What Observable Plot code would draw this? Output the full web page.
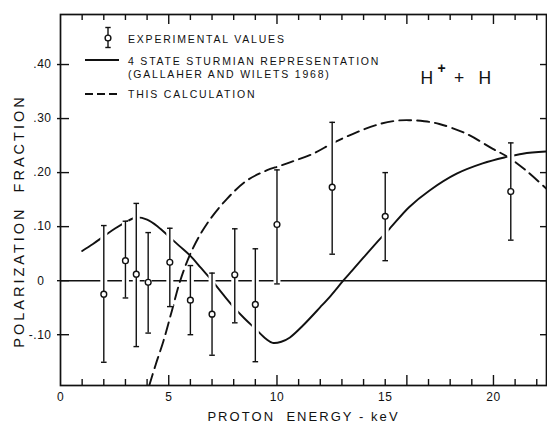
<!DOCTYPE html>
<html><head><meta charset="utf-8">
<script src="https://cdn.jsdelivr.net/npm/d3@7"></script>
<script src="https://cdn.jsdelivr.net/npm/@observablehq/plot@0.6"></script>
<style>
body{margin:0;background:#fff;}
#chart{position:relative;width:547px;height:423px;}
</style></head><body><div id="chart"></div>
<script>
// Experimental values (keV, polarization fraction, error bar limits)
const expEnergy = [2.0, 3.0, 3.5, 4.05, 5.05, 6.0, 7.0, 8.05, 9.0, 10.0, 12.55, 15.0, 20.8];
const expValue  = [-0.025, 0.037, 0.012, -0.003, 0.034, -0.036, -0.062, 0.011, -0.044, 0.104, 0.173, 0.119, 0.165];
const expHigh   = [0.102, 0.110, 0.143, 0.089, 0.097, 0.028, 0.014, 0.096, 0.059, 0.205, 0.293, 0.200, 0.255];
const expLow    = [-0.151, -0.032, -0.122, -0.097, -0.048, -0.100, -0.138, -0.078, -0.150, -0.006, 0.049, 0.037, 0.075];

// 4 state Sturmian representation (Gallaher and Wilets 1968)
const sturmEnergy = [1.0, 1.5, 2.0, 2.5, 3.0, 3.5, 4.0, 4.5, 5.0, 5.5, 6.0, 6.5, 7.0, 7.5, 8.0, 8.5, 9.0, 9.5, 9.8, 10.2, 10.6, 11.2, 12.0, 12.5, 13.06, 13.5, 14.0, 14.75, 15.2, 16.1, 17.05, 18.3, 19.5, 20.5, 21.35, 22.45];
const sturmValue  = [0.055, 0.068, 0.082, 0.096, 0.108, 0.117, 0.113, 0.100, 0.082, 0.064, 0.046, 0.023, 0.000, -0.025, -0.049, -0.070, -0.089, -0.108, -0.115, -0.113, -0.105, -0.083, -0.049, -0.027, 0.000, 0.020, 0.043, 0.077, 0.096, 0.136, 0.167, 0.198, 0.217, 0.228, 0.235, 0.239];

// This calculation
const calcEnergy = [4.1, 4.4, 4.76, 5.15, 5.53, 6.07, 6.76, 7.68, 8.6, 9.52, 10.1, 10.6, 11.67, 12.6, 13.7, 14.75, 15.5, 16.1, 16.8, 17.5, 18.74, 19.97, 20.7, 21.5, 22.45];
const calcValue  = [-0.194, -0.155, -0.111, -0.055, 0.000, 0.056, 0.105, 0.151, 0.185, 0.204, 0.212, 0.219, 0.235, 0.255, 0.275, 0.290, 0.296, 0.297, 0.295, 0.290, 0.272, 0.244, 0.228, 0.204, 0.170];

// Axis ticks
const xLabelTicks = [0, 5, 10, 15, 20];
const xMinorTicks = [1, 2, 3, 4, 6, 7, 8, 9, 11, 12, 13, 14, 15, 17, 18, 19, 21, 22];
const xMajorTicks = [5, 10, 16, 20];
const yTicks = [-0.1, 0, 0.1, 0.2, 0.3, 0.4];

// Text
const xTitle = "PROTON  ENERGY - keV";
const yTitle = "POLARIZATION  FRACTION";
const legendLabels = ["EXPERIMENTAL VALUES", "4 STATE STURMIAN REPRESENTATION", "(GALLAHER AND WILETS 1968)", "THIS CALCULATION"];

const expData = expEnergy.map((e, i) => ({e, v: expValue[i], hi: expHigh[i], lo: expLow[i]}));
const sturmData = sturmEnergy.map((e, i) => ({e, v: sturmValue[i]}));
const calcData = calcEnergy.map((e, i) => ({e, v: calcValue[i]}));

const W = 547, H = 423, mL = 60, mR = 1, mT = 14, mB = 38;
const iW = W - mL - mR, iH = H - mT - mB;
const font = "'Liberation Sans', Arial, sans-serif";
const yFmt = d => d === 0 ? "0\u2007" : (d < 0 ? "-" : "") + d3.format(".2f")(Math.abs(d)).replace(/^0/, "");
const capSymbol = {draw(ctx, size) { const r = Math.sqrt(size / Math.PI); ctx.moveTo(-r, 0); ctx.lineTo(r, 0); }};
const ink = "#111";

const plot = Plot.plot({
  width: W, height: H, marginLeft: mL, marginRight: mR, marginTop: mT, marginBottom: mB,
  x: {domain: [0, 22.45]},
  y: {domain: [-0.194, 0.4926]},
  style: {fontFamily: font, fontSize: "12px", color: ink, background: "#fff"},
  marks: [
    Plot.ruleY([0], {stroke: ink, strokeWidth: 1.5}),
    Plot.line(sturmData, {x: "e", y: "v", curve: "catmull-rom", stroke: ink, strokeWidth: 1.9, clip: true}),
    Plot.line(calcData, {x: "e", y: "v", curve: "catmull-rom", stroke: ink, strokeWidth: 1.9, strokeDasharray: "12,6", clip: true}),
    Plot.ruleX(expData, {x: "e", y1: "lo", y2: "hi", stroke: "#fff", strokeWidth: 7}),
    Plot.ruleX(expData, {x: "e", y1: "lo", y2: "hi", stroke: ink, strokeWidth: 1.4}),
    Plot.dot(expData, {x: "e", y: "hi", symbol: capSymbol, r: 2.8, stroke: ink, strokeWidth: 1.4}),
    Plot.dot(expData, {x: "e", y: "lo", symbol: capSymbol, r: 2.8, stroke: ink, strokeWidth: 1.4}),
    Plot.dot(expData, {x: "e", y: "v", r: 2.9, fill: "#fff", stroke: ink, strokeWidth: 1.4}),
    // ticks (inward)
    Plot.gridX(xMinorTicks, {stroke: ink, strokeOpacity: 1, strokeWidth: 1.4, insetTop: iH - 6}),
    Plot.gridX(xMajorTicks, {stroke: ink, strokeOpacity: 1, strokeWidth: 1.4, insetTop: iH - 10}),
    Plot.gridX(xMinorTicks, {stroke: ink, strokeOpacity: 1, strokeWidth: 1.4, insetBottom: iH - 6}),
    Plot.gridX(xMajorTicks, {stroke: ink, strokeOpacity: 1, strokeWidth: 1.4, insetBottom: iH - 10}),
    Plot.gridY(yTicks, {stroke: ink, strokeOpacity: 1, strokeWidth: 1.4, insetRight: iW - 9, insetLeft: -3}),
    Plot.gridY(yTicks, {stroke: ink, strokeOpacity: 1, strokeWidth: 1.4, insetLeft: iW - 6}),
    Plot.frame({stroke: ink, strokeWidth: 1.7}),
    Plot.axisX({ticks: xLabelTicks, tickSize: 0, tickPadding: 7, label: null, fontSize: 12}),
    Plot.axisY({ticks: yTicks, tickSize: 0, tickPadding: 9, tickFormat: yFmt, label: null, fontSize: 12}),
    Plot.text([xTitle], {frameAnchor: "bottom", textAnchor: "middle", dy: 31, dx: 0, lineAnchor: "middle", fontSize: 13, fill: ink}),
    Plot.text([yTitle], {frameAnchor: "left", textAnchor: "middle", rotate: -90, dx: -41, dy: 21, lineAnchor: "middle", fontSize: 14.5, fill: ink}),
  ]
});

const svg = d3.select(plot);
svg.selectAll("text").filter(function() { return this.textContent === xTitle; }).attr("letter-spacing", "2.05px");
svg.selectAll("text").filter(function() { return this.textContent === yTitle; }).attr("letter-spacing", "3px");
svg.selectAll("g[aria-label='x-axis tick label'] text, g[aria-label='y-axis tick label'] text").attr("letter-spacing", "0.5px");

// Legend
const lg = svg.append("g").attr("fill", "none").attr("stroke", ink).attr("stroke-width", 1.4);
lg.append("line").attr("x1", 108).attr("x2", 108).attr("y1", 27.5).attr("y2", 47.5);
lg.append("line").attr("x1", 105.3).attr("x2", 110.7).attr("y1", 27.5).attr("y2", 27.5);
lg.append("line").attr("x1", 105.3).attr("x2", 110.7).attr("y1", 47.5).attr("y2", 47.5);
lg.append("circle").attr("cx", 108).attr("cy", 38).attr("r", 2.9).attr("fill", "#fff");
lg.append("line").attr("x1", 85).attr("x2", 119).attr("y1", 60).attr("y2", 60).attr("stroke-width", 1.8);
lg.append("line").attr("x1", 85).attr("x2", 119).attr("y1", 94).attr("y2", 94).attr("stroke-width", 1.8).attr("stroke-dasharray", "8,4");
const lt = svg.append("g").attr("font-family", font).attr("font-size", "10.5px").attr("fill", ink)
  .attr("letter-spacing", "1.8px").attr("text-anchor", "start");
[[legendLabels[0], 43], [legendLabels[1], 64.5], [legendLabels[2], 77.5], [legendLabels[3], 98]].forEach(([t, y]) => {
  lt.append("text").attr("x", 128).attr("y", y).text(t);
});

// Reaction label H+ + H
const hl = svg.append("g").attr("font-family", font).attr("fill", ink).attr("text-anchor", "start");
hl.append("text").attr("x", 420.5).attr("y", 83.5).attr("font-size", "17.5px").text("H");
hl.append("text").attr("x", 437.5).attr("y", 73).attr("font-size", "14px").attr("font-weight", "bold").text("+");
hl.append("text").attr("x", 454).attr("y", 83.5).attr("font-size", "17.5px").text("+");
hl.append("text").attr("x", 478.5).attr("y", 83.5).attr("font-size", "17.5px").text("H");

document.getElementById("chart").appendChild(plot);
</script></body></html>
